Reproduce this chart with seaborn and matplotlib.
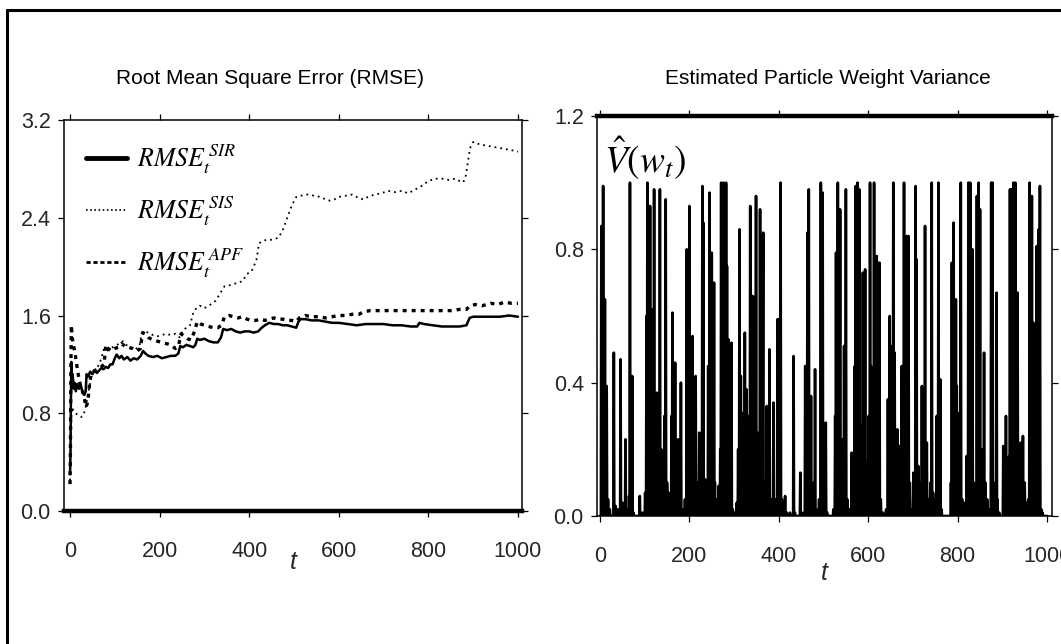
import numpy as np
import pandas as pd
import matplotlib
matplotlib.use("Agg")
import matplotlib.pyplot as plt
from matplotlib.lines import Line2D
import seaborn as sns

# ---------------- data ----------------
# RMSE curves (t, value)
sir_t = [0, 1, 2, 3, 4, 6, 8, 10, 13, 16, 20, 24, 28, 32, 35, 37, 40, 45, 50, 55, 60, 65, 70, 75, 80, 85, 90, 95,
         100, 104, 110, 115, 120, 128, 135, 142, 150, 158, 163, 168, 175, 185, 195, 205, 215, 225, 235, 242, 246,
         252, 260, 268, 275, 280, 284, 290, 300, 310, 320, 330, 337, 342, 350, 360, 370, 380, 390, 400, 410, 420,
         428, 435, 445, 455, 465, 475, 485, 495, 505, 510, 515, 525, 540, 555, 570, 585, 600, 620, 640, 660, 680,
         700, 720, 740, 760, 775, 780, 790, 810, 830, 850, 870, 885, 892, 900, 920, 940, 960, 980, 1000]
sir_v = [0.30, 0.45, 0.90, 1.22, 1.05, 1.12, 1.00, 1.05, 0.98, 1.04, 1.00, 1.03, 0.97, 0.95, 0.98, 1.12, 1.10, 1.14,
         1.12, 1.15, 1.13, 1.15, 1.17, 1.16, 1.18, 1.17, 1.20, 1.20, 1.25, 1.28, 1.25, 1.27, 1.24, 1.26, 1.23, 1.25,
         1.24, 1.27, 1.31, 1.29, 1.27, 1.26, 1.27, 1.25, 1.26, 1.27, 1.27, 1.29, 1.35, 1.34, 1.36, 1.35, 1.34, 1.36,
         1.41, 1.40, 1.41, 1.39, 1.38, 1.38, 1.42, 1.49, 1.48, 1.49, 1.47, 1.46, 1.47, 1.47, 1.46, 1.47, 1.50, 1.52,
         1.54, 1.53, 1.53, 1.52, 1.52, 1.51, 1.50, 1.55, 1.57, 1.57, 1.56, 1.56, 1.55, 1.54, 1.54, 1.53, 1.52, 1.53,
         1.53, 1.53, 1.52, 1.52, 1.51, 1.51, 1.54, 1.53, 1.52, 1.51, 1.51, 1.51, 1.52, 1.58, 1.59, 1.59, 1.59, 1.59,
         1.60, 1.59]

sis_t = [0, 2, 4, 8, 12, 16, 20, 25, 30, 35, 40, 45, 50, 55, 60, 65, 70, 75, 80, 90, 100, 110, 118, 125, 135, 145,
         155, 160, 165, 175, 185, 195, 205, 215, 225, 235, 245, 252, 260, 268, 275, 282, 290, 300, 310, 325, 335,
         345, 360, 375, 385, 395, 405, 416, 422, 430, 440, 450, 460, 466, 475, 485, 495, 505, 515, 530, 545, 560,
         570, 580, 590, 600, 615, 630, 645, 655, 665, 680, 695, 710, 725, 740, 755, 770, 785, 800, 815, 830, 845,
         860, 870, 878, 884, 888, 893, 900, 915, 930, 945, 960, 975, 990, 1000]
sis_v = [0.25, 0.60, 0.85, 0.82, 0.80, 0.79, 0.78, 0.77, 0.78, 0.85, 0.95, 1.05, 1.15, 1.14, 1.17, 1.20, 1.25, 1.32,
         1.30, 1.33, 1.35, 1.37, 1.39, 1.36, 1.34, 1.32, 1.35, 1.45, 1.47, 1.46, 1.44, 1.43, 1.44, 1.45, 1.44, 1.45,
         1.42, 1.48, 1.50, 1.52, 1.62, 1.66, 1.68, 1.66, 1.68, 1.72, 1.78, 1.84, 1.85, 1.87, 1.88, 1.94, 1.96, 2.05,
         2.19, 2.21, 2.22, 2.22, 2.23, 2.24, 2.30, 2.40, 2.50, 2.57, 2.58, 2.59, 2.58, 2.57, 2.55, 2.54, 2.55, 2.57,
         2.58, 2.59, 2.56, 2.55, 2.57, 2.59, 2.60, 2.62, 2.61, 2.62, 2.60, 2.63, 2.66, 2.70, 2.72, 2.72, 2.71, 2.72,
         2.70, 2.69, 2.75, 2.85, 2.97, 3.02, 3.00, 2.99, 2.98, 2.97, 2.96, 2.95, 2.94]

apf_t = [0, 1, 2, 3, 5, 8, 11, 14, 17, 20, 24, 28, 32, 36, 40, 44, 48, 55, 62, 70, 76, 80, 85, 92, 100, 108, 115,
         122, 130, 140, 150, 157, 162, 168, 175, 185, 195, 205, 215, 225, 235, 242, 248, 255, 262, 270, 278, 284,
         292, 300, 310, 320, 330, 338, 345, 355, 365, 375, 385, 395, 405, 415, 425, 435, 445, 455, 465, 475, 485,
         495, 505, 512, 525, 540, 555, 570, 585, 600, 615, 630, 645, 655, 670, 690, 710, 730, 750, 770, 790, 810,
         830, 850, 870, 885, 893, 905, 920, 940, 955, 970, 985, 1000]
apf_v = [0.22, 0.50, 1.20, 1.52, 1.42, 1.35, 1.30, 1.22, 1.15, 1.08, 1.02, 0.98, 0.92, 0.85, 0.90, 1.05, 1.13, 1.15,
         1.16, 1.18, 1.20, 1.36, 1.33, 1.31, 1.33, 1.34, 1.37, 1.35, 1.34, 1.33, 1.31, 1.33, 1.46, 1.45, 1.42, 1.40,
         1.39, 1.38, 1.37, 1.36, 1.33, 1.35, 1.45, 1.43, 1.41, 1.40, 1.47, 1.55, 1.53, 1.52, 1.51, 1.50, 1.50, 1.52,
         1.59, 1.60, 1.59, 1.58, 1.59, 1.57, 1.56, 1.56, 1.57, 1.56, 1.57, 1.58, 1.57, 1.57, 1.56, 1.56, 1.55, 1.58,
         1.60, 1.59, 1.59, 1.58, 1.59, 1.60, 1.60, 1.61, 1.61, 1.63, 1.64, 1.64, 1.64, 1.64, 1.64, 1.64, 1.64, 1.64,
         1.64, 1.64, 1.65, 1.65, 1.68, 1.69, 1.68, 1.70, 1.69, 1.71, 1.70, 1.70]

# Estimated particle weight variance: spike times and heights (all other t are ~0)
spike_t = [3, 5, 7, 9, 11, 13, 15, 18, 22, 31, 35, 40, 46, 50, 57, 60, 65, 67, 70, 72, 75, 89, 95, 101, 104, 106,
           108, 110, 112, 114, 117, 119, 121, 124, 127, 130, 134, 137, 140, 144, 147, 150, 153, 156, 160, 162, 165,
           168, 172, 175, 178, 181, 185, 190, 194, 196, 198, 200, 203, 207, 210, 214, 218, 222, 226, 229, 231, 233,
           235, 238, 242, 245, 247, 250, 252, 255, 257, 260, 265, 269, 271, 273, 274, 276, 279, 282, 284, 287, 290,
           294, 297, 302, 306, 309, 312, 315, 318, 321, 324, 328, 331, 334, 336, 339, 342, 345, 349, 352, 355, 358,
           361, 364, 365, 368, 373, 376, 379, 383, 388, 392, 397, 399, 402, 404, 407, 410, 414, 418, 425, 433, 436,
           448, 452, 459, 462, 464, 467, 470, 472, 475, 478, 481, 484, 490, 494, 496, 498, 501, 505, 508, 522, 526,
           528, 530, 532, 535, 537, 539, 541, 544, 546, 548, 550, 553, 558, 563, 566, 570, 572, 574, 576, 578, 580,
           582, 585, 588, 590, 593, 596, 599, 601, 604, 606, 609, 613, 615, 617, 619, 622, 625, 628, 633, 640, 644,
           646, 648, 651, 654, 656, 659, 662, 665, 668, 670, 673, 675, 678, 680, 683, 685, 686, 688, 690, 693, 697,
           701, 704, 706, 708, 710, 712, 715, 718, 720, 723, 727, 729, 731, 735, 739, 742, 745, 749, 753, 757, 759,
           761, 764, 785, 787, 789, 791, 793, 796, 798, 801, 804, 807, 810, 814, 817, 820, 822, 824, 826, 828, 830,
           833, 836, 839, 843, 845, 847, 850, 852, 856, 859, 862, 866, 870, 875, 877, 878, 880, 884, 887, 889, 893,
           902, 905, 908, 911, 915, 917, 919, 921, 923, 925, 927, 929, 931, 934, 937, 941, 944, 946, 950, 955, 958,
           961, 963, 966, 969, 972, 974, 977, 979, 980, 981, 983, 984, 987, 990]
spike_v = [0.87, 0.55, 0.99, 0.30, 0.65, 0.20, 0.39, 0.05, 0.02, 0.49, 0.03, 0.02, 0.47, 0.04, 0.23, 0.02, 0.06, 1.00,
           0.03, 0.42, 0.01, 0.06, 0.01, 0.07, 0.60, 1.00, 0.30, 0.45, 0.93, 0.20, 0.62, 0.10, 0.98, 0.30, 0.37, 0.10,
           0.98, 0.20, 0.05, 0.30, 0.95, 0.10, 0.07, 0.02, 0.30, 0.61, 0.10, 0.46, 0.05, 0.23, 0.10, 0.40, 0.02, 0.05,
           0.80, 0.30, 0.55, 0.93, 0.20, 0.54, 0.15, 0.42, 0.10, 0.25, 0.12, 0.99, 0.88, 0.10, 0.11, 0.05, 0.45, 0.97,
           0.30, 0.79, 0.15, 0.70, 0.10, 0.05, 0.09, 0.20, 1.00, 0.30, 0.13, 1.00, 0.40, 1.00, 0.75, 0.53, 0.10, 0.52,
           0.02, 0.01, 0.04, 0.20, 0.86, 0.42, 0.10, 0.31, 0.55, 0.38, 0.10, 0.30, 0.93, 0.20, 0.66, 0.13, 0.96, 0.25,
           0.10, 0.92, 0.20, 0.37, 0.85, 0.10, 0.33, 0.05, 0.50, 0.05, 0.34, 0.05, 0.59, 0.59, 0.30, 1.00, 0.05, 0.02,
           0.06, 0.01, 0.01, 0.48, 0.01, 0.13, 0.01, 0.45, 0.10, 0.85, 0.98, 0.20, 0.36, 0.05, 0.10, 0.44, 0.02, 0.05,
           1.00, 0.30, 0.97, 0.10, 0.28, 0.01, 0.02, 0.30, 0.79, 0.20, 1.00, 0.30, 0.92, 0.10, 0.23, 0.10, 0.51, 0.10,
           0.98, 0.05, 0.02, 0.19, 0.05, 0.45, 0.99, 0.30, 1.00, 0.60, 0.98, 0.10, 0.27, 0.73, 0.20, 0.74, 0.16, 0.10,
           0.30, 1.00, 0.45, 0.10, 1.00, 0.30, 0.30, 0.78, 0.10, 0.76, 0.05, 0.01, 0.02, 0.35, 0.10, 0.60, 0.51, 0.20,
           1.00, 0.49, 0.10, 0.26, 0.05, 0.21, 0.10, 0.45, 0.10, 1.00, 0.20, 0.48, 0.84, 0.20, 0.84, 0.10, 0.02, 0.13,
           0.05, 0.99, 0.77, 0.10, 0.15, 0.05, 0.10, 0.39, 0.05, 0.87, 0.10, 0.22, 0.05, 0.10, 1.00, 0.07, 0.05, 0.30,
           1.00, 0.20, 0.41, 0.02, 0.10, 0.76, 0.30, 0.88, 0.20, 0.65, 0.39, 0.10, 0.31, 1.00, 0.05, 0.02, 0.04, 0.18,
           0.10, 1.00, 0.30, 1.00, 0.35, 0.80, 0.10, 0.04, 0.96, 0.30, 1.00, 0.92, 0.10, 0.20, 0.49, 0.10, 0.05, 0.02,
           1.00, 0.30, 1.00, 0.05, 0.10, 0.67, 0.05, 0.01, 0.21, 0.10, 0.30, 0.10, 0.18, 0.98, 0.30, 0.98, 0.20, 1.00,
           0.40, 1.00, 0.20, 0.67, 0.10, 0.22, 0.05, 0.24, 0.10, 0.04, 0.05, 1.00, 0.20, 0.96, 0.58, 0.10, 0.30, 0.81,
           0.30, 0.44, 0.86, 0.20, 0.99, 0.02, 0.01]

rmse_ticks = [0.0, 0.8, 1.6, 2.4, 3.2]
var_ticks = [0.0, 0.4, 0.8, 1.2]
t_ticks = [0, 200, 400, 600, 800, 1000]
titles = ["Root Mean Square Error (RMSE)", "Estimated Particle Weight Variance"]
labels = [r"$RMSE_{t}^{\,SIR}$", r"$RMSE_{t}^{\,SIS}$", r"$RMSE_{t}^{\,APF}$"]

# ---------------- style ----------------
sns.set_theme(style="ticks")
FONT = ["Liberation Sans", "DejaVu Sans"]
plt.rcParams["font.family"] = FONT
plt.rcParams["mathtext.fontset"] = "stix"
plt.rcParams["axes.linewidth"] = 1.1
plt.rcParams["text.color"] = "black"
plt.rcParams["axes.edgecolor"] = "black"

W, H = 1061, 644
fig = plt.figure(figsize=(W / 100, H / 100), dpi=100)


def px_axes(x0, y0, x1, y1):
    return fig.add_axes([x0 / W, 1 - y1 / H, (x1 - x0) / W, (y1 - y0) / H])


ax1 = px_axes(64, 120, 522, 511)
ax2 = px_axes(597, 116, 1052, 516)

rmse_df = pd.concat([
    pd.DataFrame({"t": sir_t, "v": sir_v, "s": "SIR"}),
    pd.DataFrame({"t": sis_t, "v": sis_v, "s": "SIS"}),
    pd.DataFrame({"t": apf_t, "v": apf_v, "s": "APF"}),
])

styles = {"SIR": dict(lw=1.8, ls="-"), "SIS": dict(lw=1.3, ls=(0, (1, 2.2))), "APF": dict(lw=2.4, ls=(0, (1.2, 1.5)))}
for name in ["SIR", "SIS", "APF"]:
    sub = rmse_df[rmse_df["s"] == name]
    sns.lineplot(data=sub, x="t", y="v", ax=ax1, color="black", estimator=None, sort=False,
                 linewidth=styles[name]["lw"], linestyle=styles[name]["ls"])

var_t = np.arange(0, 1001)
var_v = np.zeros(len(var_t))
var_v[np.array(spike_t)] = spike_v
sns.lineplot(x=var_t, y=var_v, ax=ax2, color="black", linewidth=1.9, estimator=None)

for ax, yt, ylim, xlim in [(ax1, rmse_ticks, (0, 3.2), (-13.4, 1009)), (ax2, var_ticks, (0, 1.2), (-6.7, 1011))]:
    ax.set_ylim(*ylim)
    ax.set_xlim(*xlim)
    ax.set_yticks(yt)
    ax.set_yticklabels([f"{v:.1f}" for v in yt])
    ax.set_xticks(t_ticks)
    ax.set_xticklabels([str(v) for v in t_ticks])
    ax.tick_params(axis="both", direction="out", length=4.5, width=0.9, color="black",
                   labelsize=15.5, top=True, right=True, labeltop=False, labelright=False)
    ax.tick_params(axis="x", pad=17)
    ax.tick_params(axis="y", pad=5)
    for s in ax.spines.values():
        s.set_visible(True)
        s.set_color("black")
    ax.set_ylabel("")
    ax.set_xlabel("t", fontsize=18, style="italic")
    ax.xaxis.label.set_va("center")

ax1.spines["bottom"].set_linewidth(3.2)
ax2.spines["top"].set_linewidth(3.2)
ax1.xaxis.set_label_coords(0.5, (511 - 562) / 391)
ax2.xaxis.set_label_coords(0.5, (516 - 573) / 400)

# legend
handles = [Line2D([], [], color="black", lw=3.5, ls="-"),
           Line2D([], [], color="black", lw=1.2, ls=(0, (1, 1.5))),
           Line2D([], [], color="black", lw=2.0, ls=(0, (1.5, 1.0)))]
ax1.legend(handles, labels, loc="upper left", bbox_to_anchor=((86 - 64) / 458, (511 - 143) / 391),
           frameon=False, fontsize=18.5, handlelength=1.6, handletextpad=0.4, labelspacing=0.72,
           borderaxespad=0, borderpad=0)

ax2.text(0.016, 0.895, r"$\hat{V}\left(w_{t}\right)$", transform=ax2.transAxes, fontsize=27,
         ha="left", va="center", color="black")

# titles
fig.text(270 / W, 1 - 78 / H, titles[0], ha="center", va="center", fontsize=15)
fig.text(828 / W, 1 - 78 / H, titles[1], ha="center", va="center", fontsize=15)

# outer frame (open to the right and bottom)
x0, y0 = 7 / W, 1 - 10 / H
fig.add_artist(Line2D([x0, x0], [0, y0], transform=fig.transFigure, color="black", lw=2.2))
fig.add_artist(Line2D([x0, 1.0], [y0, y0], transform=fig.transFigure, color="black", lw=2.2))

fig.savefig("out.png", dpi=100, facecolor="white")
